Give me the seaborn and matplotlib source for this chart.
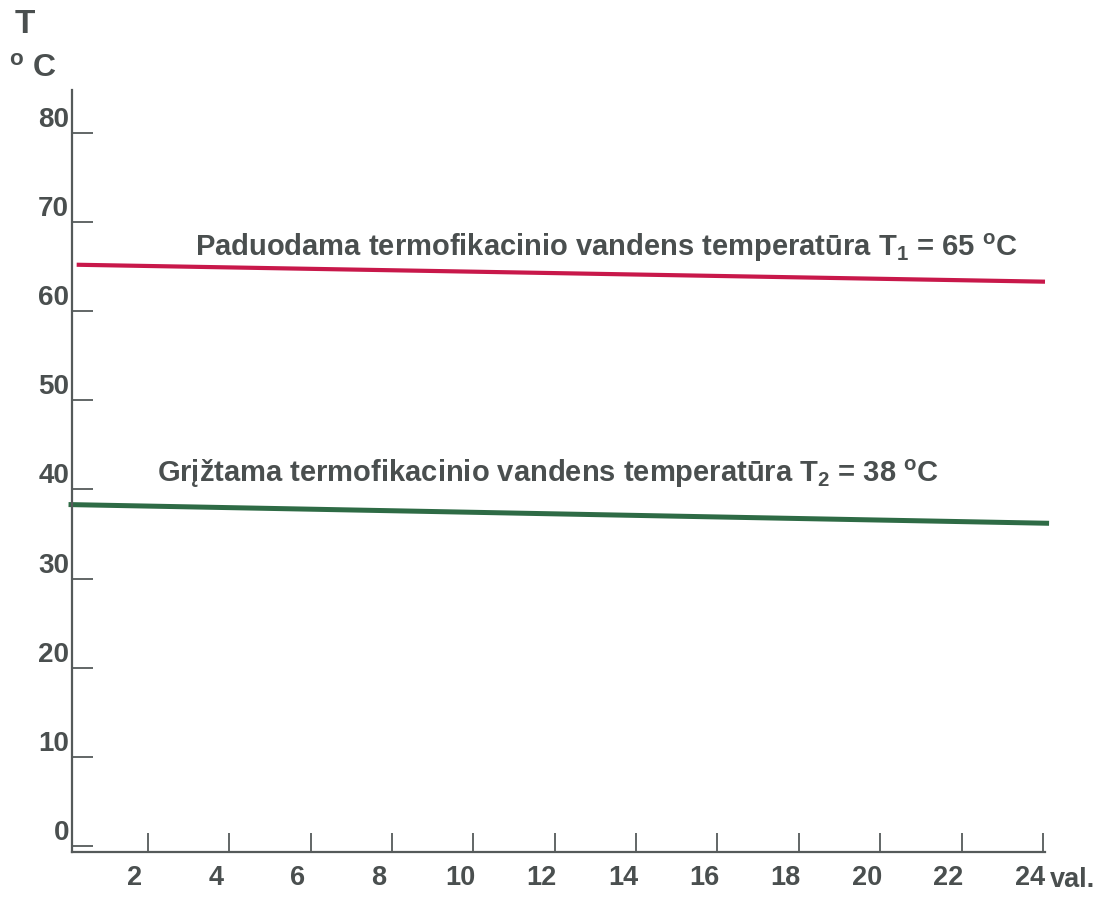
import numpy as np
import pandas as pd
import matplotlib
matplotlib.use("Agg")
import matplotlib.pyplot as plt
import matplotlib.transforms as mtransforms
import seaborn as sns

# ---- data ----
hours_supply = [0.25, 24.05]
temp_supply = [65.2, 63.3]
hours_return = [0.05, 24.15]
temp_return = [38.3, 36.2]
x_ticks = [2, 4, 6, 8, 10, 12, 14, 16, 18, 20, 22, 24]
y_ticks = [0, 10, 20, 30, 40, 50, 60, 70, 80]
label_supply = r"Paduodama termofikacinio vandens temperatūra T$_\mathbf{1}$ = 65 $^\mathbf{o}$C"
label_return = r"Grįžtama termofikacinio vandens temperatūra T$_\mathbf{2}$ = 38 $^\mathbf{o}$C"

sns.set_theme(style="white")
plt.rcParams['font.family'] = ['Liberation Sans', 'DejaVu Sans']
plt.rcParams['mathtext.fontset'] = 'custom'
plt.rcParams['mathtext.rm'] = 'Liberation Sans:bold'
plt.rcParams['mathtext.bf'] = 'Liberation Sans:bold'
plt.rcParams['mathtext.it'] = 'Liberation Sans:bold'

TXT = "#4a4f4f"
AX = "#555a5a"
RED = "#c8184a"
GREEN = "#2e6b45"

df = pd.DataFrame({
    "hour": hours_supply + hours_return,
    "temp": temp_supply + temp_return,
    "series": ["supply"] * len(hours_supply) + ["return"] * len(hours_return),
})

fig = plt.figure(figsize=(11.01, 9.05), dpi=100)
ax = fig.add_axes([72 / 1101, 1 - 852 / 905, (1045 - 72) / 1101, (852 - 90) / 905])

sns.lineplot(data=df[df.series == "supply"], x="hour", y="temp", color=RED, lw=3.0, ax=ax, legend=False)
sns.lineplot(data=df[df.series == "return"], x="hour", y="temp", color=GREEN, lw=3.6, ax=ax, legend=False)
for ln in ax.get_lines():
    ln.set_clip_on(False)
    ln.set_solid_capstyle('butt')

ax.set_xlim(0.135, 24.05)
ax.set_ylim(-0.67, 84.8)
ax.set_xlabel("")
ax.set_ylabel("")

for s in ["top", "right"]:
    ax.spines[s].set_visible(False)
for s in ["left", "bottom"]:
    ax.spines[s].set_color(AX)
    ax.spines[s].set_linewidth(1.6)

ax.set_xticks(x_ticks)
ax.set_xticklabels([str(v) for v in x_ticks])
ax.set_yticks(y_ticks)
ax.set_yticklabels([str(v) for v in y_ticks])
ax.tick_params(axis='y', which='major', left=True, direction='in', length=15, width=1.3, color=AX, pad=2,
               labelsize=20, labelcolor=TXT)
ax.tick_params(axis='x', which='major', bottom=True, direction='in', length=14, width=1.3, color=AX, pad=9,
               labelsize=19.5, labelcolor=TXT)
for lab in ax.get_yticklabels():
    lab.set_fontweight('bold')
    lab.set_va('bottom')
for lab in ax.get_xticklabels():
    lab.set_fontweight('bold')
    lab.set_transform(lab.get_transform() + mtransforms.ScaledTranslation(-13 / 100, 0, fig.dpi_scale_trans))

# line labels
ax.text(3.15, 66.2, label_supply, fontsize=21, fontweight='bold', color=TXT, ha='left', va='baseline')
ax.text(2.22, 40.8, label_return, fontsize=21, fontweight='bold', color=TXT, ha='left', va='baseline')

# axis titles
fig.text(25 / 1101, 1 - 33 / 905, "T", fontsize=24, fontweight='bold', color=TXT, ha='center', va='baseline')
fig.text(9 / 1101, 1 - 77 / 905, r"$^\mathbf{o}$ C", fontsize=23, fontweight='bold', color=TXT, ha='left', va='baseline')
fig.text(1050 / 1101, 1 - 887 / 905, "val.", fontsize=19.5, fontweight='bold', color=TXT, ha='left', va='baseline')

fig.savefig("out.png", dpi=100, facecolor='white')
